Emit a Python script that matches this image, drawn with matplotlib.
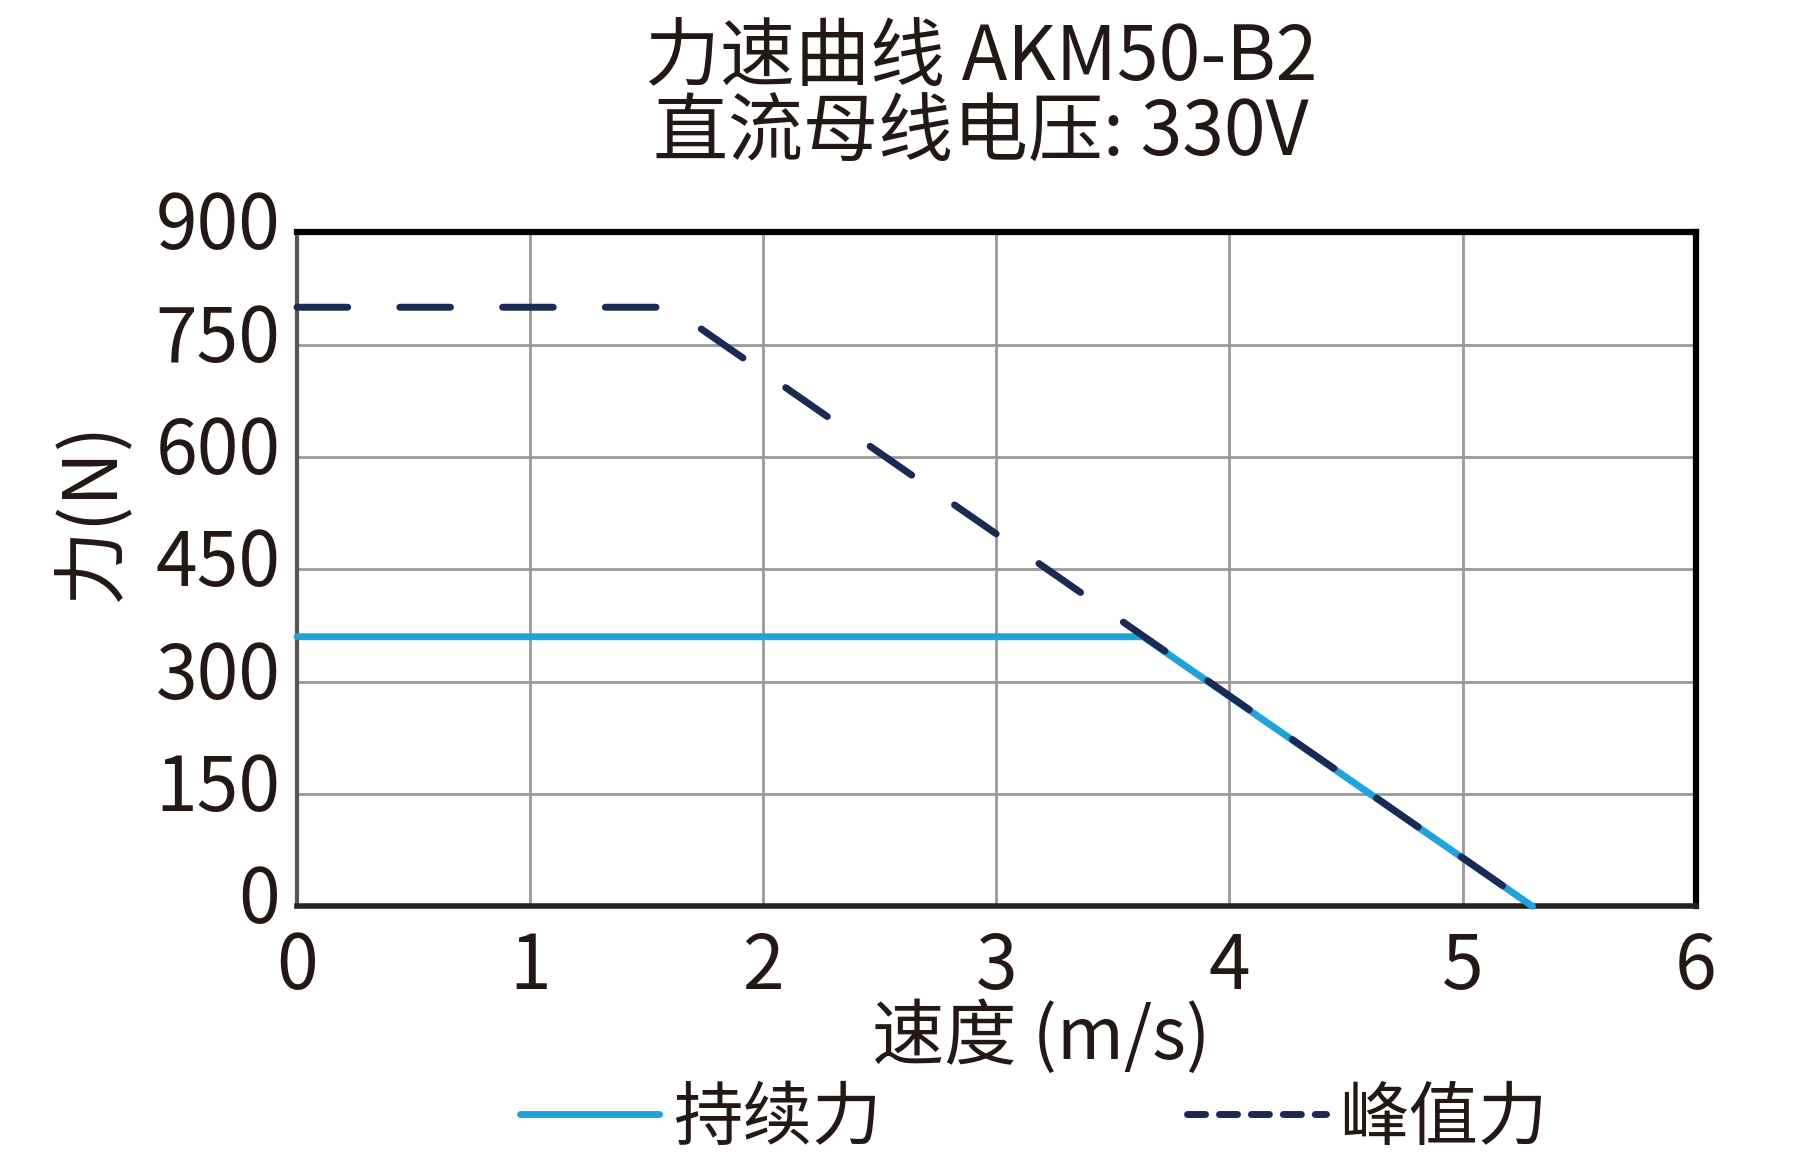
import matplotlib
matplotlib.use('Agg')
import matplotlib.pyplot as plt
import matplotlib.transforms as mtransforms
from matplotlib.lines import Line2D

plt.rcParams['font.family'] = ['Noto Sans CJK SC', 'DejaVu Sans']

# data
cont_speed = [0, 3.63, 5.3]
cont_force = [360, 360, 0]
peak_speed = [0, 1.6, 5.3]
peak_force = [800, 800, 0]
xticks = [0, 1, 2, 3, 4, 5, 6]
yticks = [0, 150, 300, 450, 600, 750, 900]

blue = '#1fa3dd'
navy = '#1b2a54'
ink = '#231815'

fig = plt.figure(figsize=(18, 11.56), dpi=100)
ax = fig.add_axes([0.165, 0.216, 0.777, 0.583])

ax.plot(cont_speed, cont_force, color=blue, lw=5, solid_capstyle='round', zorder=3, clip_on=False)
ln, = ax.plot(peak_speed, peak_force, color=navy, lw=5, dash_capstyle='round', zorder=4, clip_on=False)
ln.set_dashes((7.3, 7.5))

ax.set_xlim(0, 6)
ax.set_ylim(0, 900)
ax.set_xticks(xticks)
ax.set_yticks(yticks)
ax.tick_params(length=0, labelsize=54, colors=ink)
ax.tick_params(axis='x', pad=16)
ax.tick_params(axis='y', pad=12)
# the y labels sit a little above their grid lines in the original
up = mtransforms.ScaledTranslation(0, 0.13, fig.dpi_scale_trans)
for lab in ax.get_yticklabels():
    lab.set_transform(lab.get_transform() + up)
ax.grid(True, color='#999999', lw=2)
ax.set_axisbelow(True)
for s in ['top', 'right']:
    ax.spines[s].set_linewidth(4.5)
    ax.spines[s].set_color('black')
ax.spines['left'].set_linewidth(3)
ax.spines['left'].set_color('#555555')
ax.spines['bottom'].set_linewidth(4)
ax.spines['bottom'].set_color('#222222')

fig.text(0.545, 1 - 58/1156, '力速曲线 AKM50-B2', ha='center', va='center', fontsize=54, color=ink)
fig.text(0.545, 1 - 134/1156, '直流母线电压: 330V', ha='center', va='center', fontsize=54, color=ink)
fig.text(92/1800, 1 - 512/1156, '力(N)', rotation=90, ha='center', va='center', fontsize=54, color=ink)
fig.text(1041/1800, 1 - 1038/1156, '速度 (m/s)', ha='center', va='center', fontsize=52, color=ink)

h1 = Line2D([], [], color=blue, lw=5, solid_capstyle='round')
h2 = Line2D([], [], color=navy, lw=5, dash_capstyle='round', dashes=(2.6, 2.0))
fig.legend([h1, h2], ['持续力', '峰值力'], loc='center', bbox_to_anchor=(1034/1800, 1 - 1119/1156),
           ncol=2, frameon=False, fontsize=50, handlelength=2.0, handletextpad=0.2,
           columnspacing=4.4, labelcolor=ink)

fig.savefig('out.png', dpi=100)
